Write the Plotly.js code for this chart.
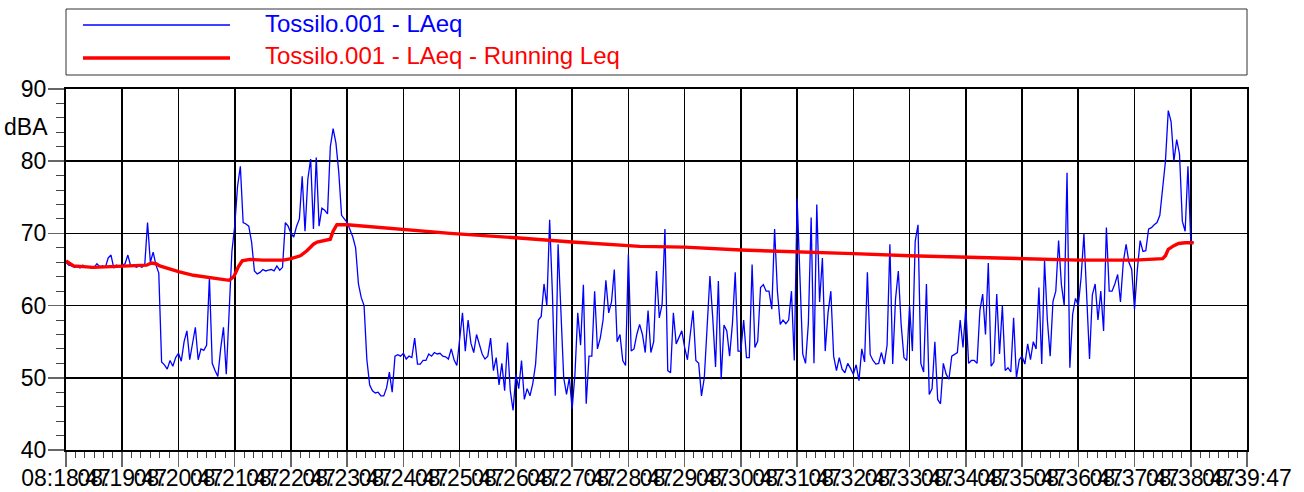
<!DOCTYPE html>
<html>
<head>
<meta charset="utf-8">
<script src="https://cdn.plot.ly/plotly-3.0.1.min.js"></script>
<style>
  html, body { margin: 0; padding: 0; background: #ffffff; }
  #chart { width: 1304px; height: 492px; }
</style>
</head>
<body>
<div id="chart"></div>
<script>
// ---- Data ----
const seriesNames = ["Tossilo.001 - LAeq", "Tossilo.001 - LAeq - Running Leq"];
const yUnit = "dBA";
const startClock = [8, 18, 47];      // 08:18:47
const axisEndSec = 1260;             // 08:39:47
const sampleStepSec = 3;

// LAeq samples (dBA), one every 3 s from 08:18:47
const laeq = [
  66.0, 65.6, 65.5, 65.3, 65.4, 65.2, 65.6, 65.3, 65.4, 65.2, 65.3, 65.8, 65.4, 65.5, 65.3, 66.6, 67.0, 65.2, 65.6, 65.4,
  65.6, 65.8, 67.0, 65.5, 65.6, 65.3, 65.5, 65.3, 65.6, 71.5, 66.0, 67.4, 65.6, 64.5, 52.2, 51.8, 51.2, 52.4, 51.6, 52.8,
  53.4, 52.3, 55.0, 56.5, 52.5, 54.5, 57.0, 52.5, 54.0, 53.8, 54.5, 63.9, 52.0, 51.0, 50.2, 54.0, 57.0, 50.5, 60.0, 67.5,
  71.0, 76.5, 79.3, 71.5, 71.3, 71.0, 68.8, 64.8, 64.4, 64.6, 65.0, 64.8, 64.9, 65.0, 64.8, 65.5, 64.9, 65.3, 71.5, 71.0,
  70.0, 69.5, 71.0, 72.0, 77.9, 70.3, 77.5, 80.3, 70.6, 80.5, 71.0, 73.5, 73.2, 72.7, 82.0, 84.5, 82.5, 78.5, 72.5, 72.0,
  71.5, 70.5, 69.5, 68.0, 63.0, 61.1, 60.0, 52.5, 49.0, 48.2, 47.9, 48.0, 47.5, 47.5, 48.6, 50.8, 48.0, 53.0, 53.2, 53.0,
  53.4, 52.6, 53.0, 52.8, 55.5, 51.9, 51.9, 52.4, 52.4, 53.3, 53.0, 53.5, 53.3, 53.4, 53.0, 52.9, 52.6, 54.0, 52.5, 51.7,
  55.5, 59.0, 53.7, 58.0, 54.8, 53.5, 56.0, 54.5, 53.3, 52.6, 53.0, 55.5, 51.0, 52.8, 49.0, 52.0, 48.2, 54.9, 48.2, 45.5,
  50.5, 48.5, 52.4, 47.0, 48.5, 47.5, 49.2, 51.9, 58.0, 58.5, 63.0, 60.0, 71.9, 61.5, 47.5, 68.5, 60.0, 50.0, 47.7, 50.0,
  45.7, 50.5, 59.0, 54.5, 62.9, 46.4, 53.0, 53.0, 62.0, 54.0, 55.5, 58.0, 63.5, 59.0, 60.5, 65.0, 55.0, 56.0, 52.4, 51.7,
  67.1, 53.7, 54.0, 56.0, 57.4, 56.0, 53.5, 59.3, 53.5, 55.0, 64.8, 58.3, 60.2, 70.6, 51.0, 50.7, 59.0, 54.7, 55.6, 56.5,
  54.2, 52.5, 56.0, 59.3, 52.4, 52.0, 47.5, 50.0, 57.0, 64.1, 58.3, 51.5, 63.4, 49.8, 57.3, 56.5, 53.0, 57.5, 64.6, 53.7,
  53.7, 58.0, 52.8, 52.8, 65.7, 54.2, 55.1, 62.5, 62.9, 62.0, 62.0, 59.5, 70.6, 62.0, 57.4, 58.0, 57.5, 58.0, 62.0, 52.4,
  74.9, 62.9, 53.3, 52.0, 57.5, 72.2, 52.0, 74.0, 60.5, 66.6, 53.7, 59.0, 62.0, 53.0, 51.0, 52.8, 51.2, 50.7, 52.0, 51.3,
  50.5, 51.8, 49.6, 54.0, 52.2, 64.6, 53.2, 52.4, 51.9, 52.0, 53.5, 51.9, 54.5, 68.5, 51.9, 60.9, 64.8, 57.4, 52.8, 52.4,
  60.0, 53.7, 68.9, 71.2, 52.0, 50.8, 63.0, 47.7, 48.5, 55.0, 47.0, 46.4, 52.0, 50.5, 49.8, 53.0, 53.3, 53.5, 58.0, 54.2,
  59.7, 52.0, 52.4, 52.4, 52.0, 59.3, 61.6, 56.0, 65.9, 51.6, 52.2, 61.6, 53.3, 60.0, 51.0, 51.4, 50.8, 58.3, 50.0, 52.5,
  53.0, 51.9, 54.7, 52.5, 55.0, 54.0, 62.5, 51.9, 66.2, 58.0, 53.0, 60.6, 62.0, 69.0, 62.9, 60.0, 78.4, 51.4, 58.8, 61.0,
  60.0, 63.9, 69.9, 60.0, 52.6, 61.5, 63.0, 58.0, 62.0, 56.5, 70.8, 62.0, 62.0, 63.0, 64.3, 60.5, 66.0, 68.5, 66.0, 65.0,
  59.5, 65.0, 69.0, 67.5, 67.6, 70.6, 70.8, 71.2, 71.5, 72.5, 75.9, 80.0, 87.0, 85.5, 80.0, 83.0, 81.0, 71.7, 70.3, 79.3,
  69.0, 68.7
];

// Running Leq, read at its turning points (seconds after 08:18:47, dBA)
const leqSec = [0, 8, 29, 60, 86, 91, 96, 100, 120, 136, 154, 174, 179, 184, 188, 196, 210, 232, 240, 250, 257, 264, 268, 282, 285, 289, 300, 318, 339, 361, 399, 410, 480, 540, 612, 660, 720, 780, 815, 840, 900, 960, 1017, 1080, 1140, 1170, 1173, 1176, 1182, 1187, 1194, 1203];
const leqValues = [66.2, 65.5, 65.3, 65.5, 65.6, 65.9, 65.8, 65.5, 64.7, 64.2, 63.9, 63.5, 64.0, 65.4, 66.2, 66.4, 66.3, 66.3, 66.5, 66.9, 67.6, 68.5, 68.8, 69.2, 70.3, 71.2, 71.2, 71.0, 70.7, 70.5, 70.1, 70.0, 69.4, 68.8, 68.2, 68.1, 67.7, 67.5, 67.3, 67.2, 66.9, 66.7, 66.5, 66.3, 66.3, 66.5, 66.9, 67.8, 68.3, 68.6, 68.7, 68.7];

// ---- Helpers ----
function pad(n) { return (n < 10 ? "0" : "") + n; }
function clockAt(sec) {
  const total = startClock[0] * 3600 + startClock[1] * 60 + startClock[2] + sec;
  const h = Math.floor(total / 3600), m = Math.floor((total % 3600) / 60), s = total % 60;
  return "2024-01-01 " + pad(h) + ":" + pad(m) + ":" + pad(s);
}

const laeqX = laeq.map((_, i) => clockAt(i * sampleStepSec));
const leqX = leqSec.map(clockAt);

const BLUE = "rgb(0,0,255)";
const RED = "rgb(255,0,0)";
const FONT = "'Liberation Sans', Arial, Helvetica, sans-serif";

const traces = [
  { type: "scatter", mode: "lines", name: seriesNames[0], x: laeqX, y: laeq,
    line: { color: BLUE, width: 1.3 }, hoverinfo: "skip" },
  { type: "scatter", mode: "lines", name: seriesNames[1], x: leqX, y: leqValues,
    line: { color: RED, width: 3.4 }, hoverinfo: "skip" }
];

// plot area: x 66..1247, y 89..450 (px)
const PL = 66, PR = 1247, PT = 89, PB = 450;
const px2x = (p) => (p - PL) / (PR - PL);
const px2y = (p) => (PB - p) / (PB - PT);

const layout = {
  width: 1304, height: 492,
  margin: { l: PL, r: 1304 - PR, t: PT, b: 492 - PB, pad: 0 },
  paper_bgcolor: "#ffffff", plot_bgcolor: "#ffffff",
  showlegend: false,
  font: { family: FONT, size: 23, color: "#000000" },
  xaxis: {
    type: "date",
    range: [clockAt(0), clockAt(axisEndSec)],
    tickmode: "linear", tick0: clockAt(0), dtick: 60000,
    tickformat: "%H:%M:%S", tickangle: 0,
    ticks: "outside", ticklen: 15, tickwidth: 1.5, tickcolor: "#666666",
    ticklabelstandoff: -9,
    tickfont: { family: FONT, size: 23, color: "#000000" },
    showgrid: true, gridcolor: "#000000", gridwidth: 1.6,
    showline: true, linecolor: "#000000", linewidth: 2, mirror: true,
    zeroline: false, automargin: false, fixedrange: true,
    minor: { tick0: clockAt(0), dtick: 10000, ticks: "outside", ticklen: 6, tickwidth: 1, tickcolor: "#444444", showgrid: false }
  },
  yaxis: {
    range: [40, 90],
    tickmode: "linear", tick0: 40, dtick: 10,
    ticks: "outside", ticklen: 16, tickwidth: 1.5, tickcolor: "#666666",
    ticklabelstandoff: -3,
    tickfont: { family: FONT, size: 23, color: "#000000" },
    showgrid: true, gridcolor: "#000000", gridwidth: 1.6,
    showline: true, linecolor: "#000000", linewidth: 2, mirror: true,
    zeroline: false, automargin: false, fixedrange: true,
    minor: { tick0: 40, dtick: 2, ticks: "outside", ticklen: 8, tickwidth: 1, tickcolor: "#444444", showgrid: false }
  },
  shapes: [
    { type: "rect", xref: "paper", yref: "paper",
      x0: px2x(66), x1: px2x(1247), y0: px2y(75), y1: px2y(9),
      line: { color: "#333333", width: 1 }, fillcolor: "rgba(0,0,0,0)" },
    { type: "line", xref: "paper", yref: "paper",
      x0: px2x(83), x1: px2x(230), y0: px2y(25), y1: px2y(25),
      line: { color: BLUE, width: 1.3 } },
    { type: "line", xref: "paper", yref: "paper",
      x0: px2x(83), x1: px2x(230), y0: px2y(58), y1: px2y(58),
      line: { color: RED, width: 3.4 } }
  ],
  annotations: [
    { xref: "paper", yref: "paper", x: px2x(263), y: px2y(24), xanchor: "left", yanchor: "middle",
      text: seriesNames[0], showarrow: false, font: { family: FONT, size: 24, color: BLUE } },
    { xref: "paper", yref: "paper", x: px2x(263), y: px2y(56), xanchor: "left", yanchor: "middle",
      text: seriesNames[1], showarrow: false, font: { family: FONT, size: 24, color: RED } },
    { xref: "paper", yref: "paper", x: px2x(50), y: px2y(127), xanchor: "right", yanchor: "middle",
      text: yUnit, showarrow: false, font: { family: FONT, size: 23, color: "#000000" } }
  ]
};

Plotly.newPlot("chart", traces, layout, { displayModeBar: false, staticPlot: true });
</script>
</body>
</html>
